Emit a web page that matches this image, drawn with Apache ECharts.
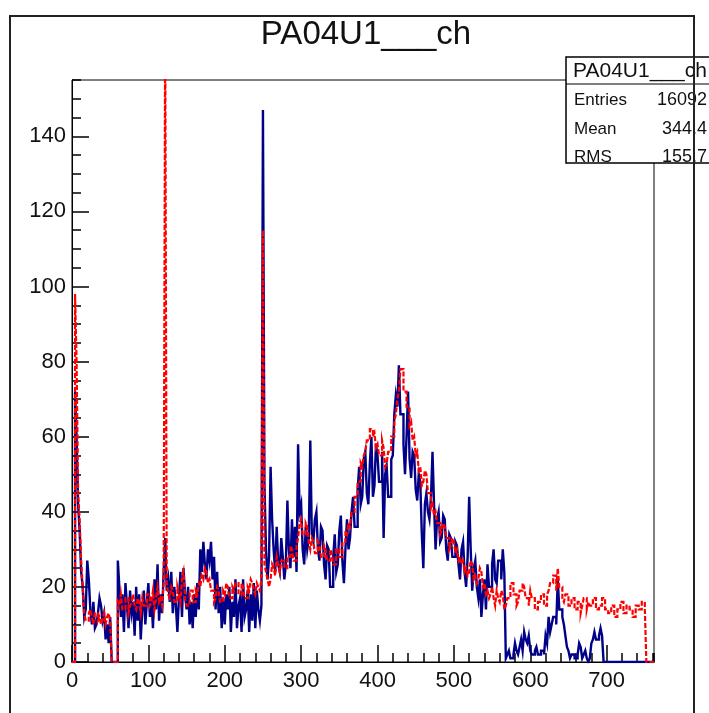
<!DOCTYPE html>
<html>
<head>
<meta charset="utf-8">
<script src="https://cdn.jsdelivr.net/npm/echarts@6/dist/echarts.min.js"></script>
<style>html,body{margin:0;padding:0;background:#fff;}#c{width:709px;height:713px;}</style>
</head>
<body>
<div id="c"></div>
<script>
const titleText = 'PA04U1___ch';
const statsLabels = ['Entries', 'Mean', 'RMS'];
const statsValues = ['16092', '344.4', '155.7'];
const binWidth = 2;
const xMin = 0, xMax = 762, yMin = 0, yMax = 155;
const blueCounts = [
  0,0,72,60,42,35,24,20,12,14,
  27,22,14,10,16,9,10,13,17,15,
  11,13,6,10,5,12,0,0,0,0,
  27,20,12,18,8,21,15,9,19,13,
  16,7,20,11,18,6,14,19,10,16,
  21,12,17,9,22,14,26,11,18,13,
  24,33,19,22,16,24,13,20,15,8,
  17,24,12,25,18,14,20,10,16,9,
  18,12,21,14,30,24,32,26,22,30,
  27,32,22,28,14,24,13,20,9,17,
  10,18,14,20,8,16,12,22,9,15,
  17,8,22,12,14,19,8,18,11,21,
  9,19,14,11,15,147,47,30,22,28,
  52,38,30,24,36,26,24,33,28,22,
  26,43,30,25,38,28,36,24,58,40,
  42,30,26,36,30,33,59,34,32,38,
  40,30,27,36,35,26,22,31,30,20,
  20,28,34,24,26,35,39,27,21,30,
  38,30,33,40,44,36,36,46,52,42,
  44,54,56,45,42,53,60,44,47,58,
  55,48,48,56,33,50,52,44,44,54,
  55,66,71,68,79,66,66,58,50,60,
  72,54,49,56,55,46,43,50,48,34,
  25,42,45,40,38,44,56,42,30,38,
  40,32,33,39,38,30,27,34,33,28,
  28,32,31,26,22,30,32,24,20,28,
  44,30,19,25,27,20,17,22,12,18,
  22,14,26,20,20,26,30,22,21,27,
  27,22,30,24,1,2,3,1,1,2,
  5,3,2,4,6,3,8,6,5,7,
  3,2,2,3,4,2,2,3,3,2,
  7,5,12,8,10,12,12,10,22,14,
  14,12,10,7,4,3,1,2,2,1,
  1,2,5,4,1,2,3,1,0,1,
  5,6,8,6,6,7,9,7,0,0,
  0,0,0,0,0,0,0,0,0,0,
  0,0,0,0,0,0,0,0,0,0,
  0,0,0,0,0,0,0,0,0,0,
  0
];
const redCounts = [
  0,0,98,80,45,38,27,20,13,11,
  11,13,14,12,10,13,13,11,12,10,
  11,13,10,12,13,11,0,0,0,0,
  16,15,18,14,14,17,17,13,15,16,
  18,15,14,17,16,13,17,15,15,18,
  18,15,16,19,14,17,20,16,17,15,
  21,170,21,18,17,20,19,16,16,20,
  18,16,22,24,17,15,15,19,19,16,
  16,19,18,21,20,23,22,25,24,21,
  22,19,19,16,17,20,19,16,16,19,
  18,21,20,17,17,20,19,21,21,18,
  18,21,20,17,17,20,19,22,21,19,
  18,21,20,19,22,115,26,24,22,20,
  22,26,25,23,28,26,24,27,27,25,
  25,28,28,31,30,27,27,31,33,37,
  38,34,34,37,36,32,30,33,32,29,
  29,32,31,28,28,31,30,27,27,30,
  29,26,26,30,30,28,28,32,32,35,
  34,37,36,40,40,44,44,48,48,53,
  52,55,56,59,59,62,62,60,61,57,
  58,55,55,59,57,52,53,56,56,60,
  60,64,66,70,72,78,78,72,72,68,
  68,63,64,59,60,55,56,51,52,47,
  48,51,50,45,45,41,42,39,40,37,
  37,34,35,37,36,33,33,30,31,33,
  32,29,30,27,28,26,27,24,25,23,
  24,27,26,22,23,21,22,25,24,20,
  21,18,19,17,18,20,17,15,19,17,
  16,19,18,14,15,17,17,21,21,18,
  18,15,16,19,19,21,20,17,17,15,
  19,17,17,14,14,16,16,18,18,15,
  15,18,19,21,21,23,23,19,25,20,
  20,17,16,18,18,15,15,17,17,14,
  14,16,16,13,15,17,17,14,16,15,
  15,17,17,14,14,15,15,17,17,14,
  14,13,13,15,15,12,12,14,14,16,
  16,13,13,15,15,14,14,12,12,15,
  15,14,14,16,16,14,0,0,0,0,
  0
];

function toSteps(counts) {
  const pts = counts.map((c, i) => [i * binWidth, c]);
  pts.push([counts.length * binWidth, counts[counts.length - 1]]);
  return pts;
}

const FONT = 'Liberation Sans, Arial, Helvetica, sans-serif';
const chart = echarts.init(document.getElementById('c'), null, {renderer: 'canvas'});

const baseAxis = {
  type: 'value',
  splitLine: {show: false},
  axisLine: {show: true, onZero: false, lineStyle: {color: '#000', width: 1}},
};

chart.setOption({
  animation: false,
  backgroundColor: '#fff',
  grid: {left: 72, right: 55, top: 80, bottom: 51, show: true, borderColor: '#000', borderWidth: 1, backgroundColor: 'transparent'},
  xAxis: [
    Object.assign({}, baseAxis, {
      min: xMin, max: xMax, interval: 100, position: 'bottom',
      axisTick: {show: true, inside: true, length: 17, lineStyle: {color: '#000', width: 1.5}},
      axisLabel: {show: true, color: '#111', fontFamily: FONT, fontSize: 22, margin: 8, showMaxLabel: false}
    }),
    Object.assign({}, baseAxis, {
      min: xMin, max: xMax, interval: 20, position: 'bottom',
      axisTick: {show: true, inside: true, length: 9, lineStyle: {color: '#000', width: 1.5}},
      axisLabel: {show: false}
    })
  ],
  yAxis: [
    Object.assign({}, baseAxis, {
      min: yMin, max: yMax, interval: 20, position: 'left',
      axisTick: {show: true, inside: true, length: 17, lineStyle: {color: '#000', width: 1.5}},
      axisLabel: {show: true, color: '#111', fontFamily: FONT, fontSize: 22, margin: 6, showMaxLabel: false}
    }),
    Object.assign({}, baseAxis, {
      min: yMin, max: yMax, interval: 5, position: 'left',
      axisTick: {show: true, inside: true, length: 9, lineStyle: {color: '#000', width: 1.5}},
      axisLabel: {show: false}
    })
  ],
  series: [
    {
      type: 'line', name: 'blue', xAxisIndex: 0, yAxisIndex: 0,
      data: toSteps(blueCounts), step: 'end', symbol: 'none', clip: true,
      lineStyle: {color: '#000088', width: 2.4, join: 'miter', cap: 'butt'}
    },
    {
      type: 'line', name: 'red', xAxisIndex: 0, yAxisIndex: 0,
      data: toSteps(redCounts), step: 'end', symbol: 'none', clip: true,
      lineStyle: {color: '#ff0000', width: 2.2, type: [5, 2], join: 'miter', cap: 'butt'}
    }
  ],
  graphic: [
    {type: 'text', z: 50, x: 366, y: 35, style: {text: titleText, fill: '#111', font: '33px ' + FONT, textAlign: 'center', textVerticalAlign: 'middle'}},
    {type: 'rect', z: 60, shape: {x: 566, y: 57, width: 170, height: 106}, style: {fill: '#fff', stroke: '#000', lineWidth: 1.5}},
    {type: 'line', z: 61, shape: {x1: 566, y1: 84, x2: 736, y2: 84}, style: {stroke: '#000', lineWidth: 1.2}},
    {type: 'text', z: 62, x: 573, y: 71, style: {text: titleText, fill: '#111', font: '21px ' + FONT, textAlign: 'left', textVerticalAlign: 'middle'}},
    {type: 'text', z: 62, x: 574, y: 100, style: {text: statsLabels[0], fill: '#111', font: '17px ' + FONT, textAlign: 'left', textVerticalAlign: 'middle'}},
    {type: 'text', z: 62, x: 574, y: 129, style: {text: statsLabels[1], fill: '#111', font: '17px ' + FONT, textAlign: 'left', textVerticalAlign: 'middle'}},
    {type: 'text', z: 62, x: 574, y: 157, style: {text: statsLabels[2], fill: '#111', font: '17px ' + FONT, textAlign: 'left', textVerticalAlign: 'middle'}},
    {type: 'text', z: 62, x: 707, y: 100, style: {text: statsValues[0], fill: '#111', font: '18px ' + FONT, textAlign: 'right', textVerticalAlign: 'middle'}},
    {type: 'text', z: 62, x: 707, y: 129, style: {text: statsValues[1], fill: '#111', font: '18px ' + FONT, textAlign: 'right', textVerticalAlign: 'middle'}},
    {type: 'text', z: 62, x: 707, y: 157, style: {text: statsValues[2], fill: '#111', font: '18px ' + FONT, textAlign: 'right', textVerticalAlign: 'middle'}},
    {type: 'rect', z: 70, shape: {x: 10, y: 16, width: 684, height: 720}, style: {fill: 'none', stroke: '#222', lineWidth: 2}}
  ]
});
</script>
</body>
</html>
